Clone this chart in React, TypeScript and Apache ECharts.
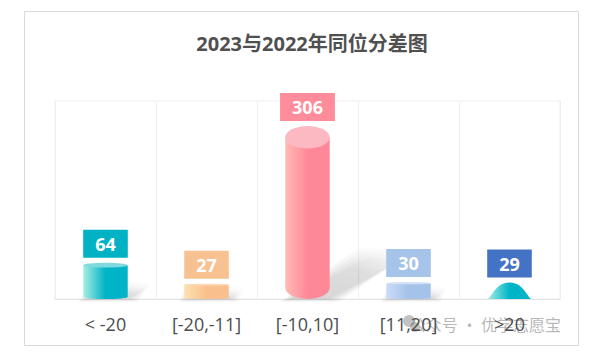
import React, { useEffect, useRef } from "react";
import * as echarts from "echarts";

const titleText = "2023与2022年同位分差图";
const categories = ["< -20", "[-20,-11]", "[-10,10]", "[11,20]", ">20"];
const values = [64, 27, 306, 30, 29];
const watermark = "公众号 · 优学志愿宝";

const palette = [
  { light: "#a6eee2", dark: "#00b3c6", top: "#80d9de", label: "#00b2c4", kind: "cyl" },
  { light: "#fde1b2", dark: "#f9bf8c", top: "#fcd8b8", label: "#f8c192", kind: "cyl" },
  { light: "#ffbbb5", dark: "#ff8898", top: "#fcb9c2", label: "#fe8c9b", kind: "cyl" },
  { light: "#cadcf7", dark: "#a5c2ea", top: "#d3e2f6", label: "#a6c3e9", kind: "cyl" },
  { light: "#a6eee2", dark: "#00b4c8", top: "#00b4c8", label: "#4472c4", kind: "bell" },
];

const FONT = '"Open Sans", "Noto Sans CJK SC", sans-serif';

export default function App() {
  const ref = useRef<HTMLDivElement>(null);
  useEffect(() => {
    if (!ref.current) return;
    const chart = echarts.init(ref.current, null, { renderer: "svg" });

    const renderItem = (params: any, api: any) => {
      const idx = api.value(0);
      const val = api.value(1);
      const p = palette[idx];
      const top = api.coord([idx, val]);
      const base = api.coord([idx, 0]);
      const cx = top[0];
      const w = api.size([1, 0])[0] * 0.44;
      const h = base[1] - top[1];
      const l = cx - w / 2;
      const r = cx + w / 2;
      const b = base[1];
      const t = top[1];
      const grad = new echarts.graphic.LinearGradient(0, 0, 1, 0, [
        { offset: 0, color: p.light },
        { offset: 0.5, color: p.dark },
        { offset: 1, color: p.dark },
      ]);
      const children: any[] = [];
      if (p.kind === "cyl") {
        const dx = 0.45 * h;
        const dy = -0.24 * h;
        for (let k = 3; k >= 0; k--) {
          const e = k * 3;
          children.push({
            type: "polygon",
            silent: true,
            shape: {
              points: [
                [l + 4 - e, b + e * 0.3],
                [r + e, b + e * 0.3],
                [r + dx + e, b + dy - e],
                [l + 4 + dx - e, b + dy - e],
              ],
            },
            style: {
              fill: new echarts.graphic.LinearGradient(0, 1, 1, 0, [
                { offset: 0, color: "rgba(0,0,0,0.045)" },
                { offset: 0.6, color: "rgba(0,0,0,0.035)" },
                { offset: 1, color: "rgba(0,0,0,0.0)" },
              ]),
            },
          });
        }
        const ry = Math.max(h * 0.065, 1);
        children.push({
          type: "rect",
          shape: { x: l, y: t + ry, width: w, height: Math.max(h - 2 * ry, 0) },
          style: { fill: grad },
        });
        children.push({
          type: "ellipse",
          shape: { cx, cy: b - ry, rx: w / 2, ry },
          style: { fill: grad },
        });
        children.push({
          type: "ellipse",
          shape: { cx, cy: t + ry, rx: w / 2, ry },
          style: { fill: p.top },
        });
      } else {
        const path = `M${l},${b} C${l + 0.09 * w},${b} ${l + 0.17 * w},${t} ${cx},${t} C${r - 0.17 * w},${t} ${r - 0.09 * w},${b} ${r},${b} Z`;
        children.push({
          type: "path",
          shape: { pathData: path },
          style: { fill: grad },
        });
      }
      children.push({
        type: "text",
        style: {
          text: String(val),
          x: cx,
          y: t - 5,
          align: "center",
          verticalAlign: "bottom",
          fill: "#ffffff",
          font: `bold 18px ${FONT}`,
          backgroundColor: p.label,
          padding: [3, 12, 3, 12],
          lineHeight: 22,
        },
      });
      return { type: "group", children };
    };

    chart.setOption({
      animation: false,
      backgroundColor: "#ffffff",
      grid: {
        left: 55,
        right: 43,
        top: 101,
        bottom: 63,
        show: true,
        borderColor: "#efefef",
        borderWidth: 1,
      },
      xAxis: {
        type: "category",
        data: categories,
        axisLine: { lineStyle: { color: "#e3e3e3" } },
        axisTick: { show: false },
        splitLine: { show: true, lineStyle: { color: "#efefef" } },
        axisLabel: {
          color: "#4d4d4d",
          fontSize: 18,
          fontFamily: FONT,
          margin: 16,
          interval: 0,
        },
      },
      yAxis: {
        type: "value",
        min: 0,
        max: 350,
        interval: 50,
        show: false,
        splitLine: { show: false },
      },
      series: [
        {
          type: "custom",
          renderItem,
          data: values.map((v, i) => [i, v]),
          encode: { x: 0, y: 1 },
          clip: false,
        },
      ],
      graphic: [
        {
          type: "rect",
          silent: true,
          shape: { x: 24.5, y: 11.5, width: 554, height: 334 },
          style: { fill: "none", stroke: "#d9d9d9", lineWidth: 1 },
        },
        {
          type: "text",
          x: 312,
          y: 43,
          style: {
            text: titleText,
            align: "center",
            verticalAlign: "middle",
            fill: "#505050",
            font: `bold 20px ${FONT}`,
          },
        },
        {
          type: "circle",
          silent: true,
          shape: { cx: 409, cy: 321, r: 6 },
          style: { fill: "rgba(120,120,120,0.45)" },
        },
        {
          type: "circle",
          silent: true,
          shape: { cx: 415, cy: 327, r: 5 },
          style: { fill: "rgba(120,120,120,0.45)" },
        },
        {
          type: "text",
          x: 561,
          y: 324,
          style: {
            text: watermark,
            align: "right",
            verticalAlign: "middle",
            fill: "rgba(120,120,120,0.55)",
            font: `16px "Noto Sans CJK SC", sans-serif`,
          },
        },
      ],
    });
    return () => chart.dispose();
  }, []);
  return (
    <div
      ref={ref}
      style={{ position: "fixed", left: 0, top: 0, width: 603, height: 362 }}
    />
  );
}
